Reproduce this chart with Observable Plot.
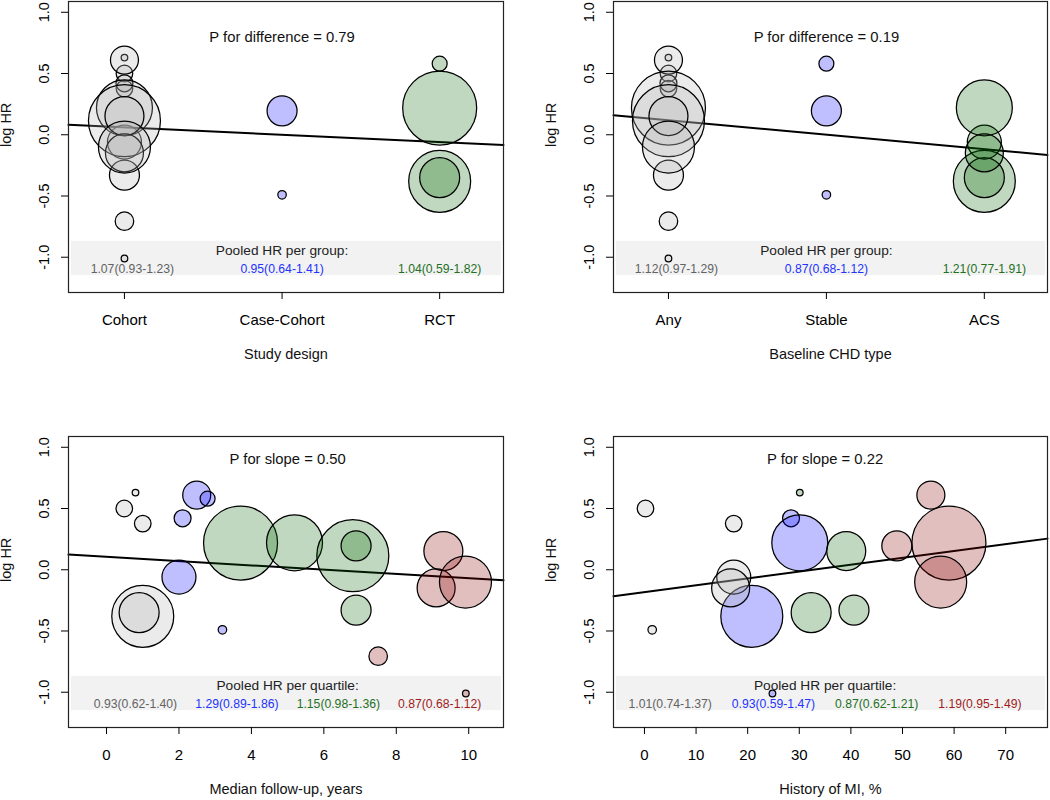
<!DOCTYPE html>
<html>
<head>
<meta charset="utf-8">
<script src="https://cdn.jsdelivr.net/npm/d3@7"></script>
<script src="https://cdn.jsdelivr.net/npm/@observablehq/plot@0.6"></script>
<style>
  body { margin: 0; background: #fff; }
  #wrap { position: relative; width: 1050px; height: 800px; font-family: "Liberation Sans", Arial, sans-serif; }
  .cell { position: absolute; width: 525px; height: 400px; }
</style>
</head>
<body>
<div id="wrap"></div>
<script>
// ---------- data (20 studies) ----------
const studyIds = [1,2,3,4,5,6,7,8,9,10,11,12,13,14,15,16,17,18,19,20];
const logHR = [0.63, 0.50, 0.377, -0.38, -0.35, 0.61, 0.58, 0.42, -0.06, -0.49,
               0.218, 0.22, 0.115, 0.195, -0.33, 0.153, -0.148, -0.10, -0.706, -1.01];
const studyWeight = [1.1, 6.9, 6.9, 96, 40, 19.6, 5.6, 7.2, 28.9, 1.8,
                     136.9, 78.4, 129.6, 22.5, 22.5, 38, 36.1, 67.6, 8.6, 1.1];

const designCategories = ["Cohort", "Case-Cohort", "RCT"];
const studyDesign = [0,0,0,2,2,0,2,0,0,1,2,0,0,1,0,0,0,0,0,0];

const chdCategories = ["Any", "Stable", "ACS"];
const chdType = [0,0,0,2,2,0,1,0,2,1,0,2,0,1,0,0,2,0,0,0];

const followUpYears = [0.80, 0.49, 1.0, 1.0, 0.90, 2.49, 2.79, 2.10, 2.0, 3.2,
                       3.70, 5.19, 6.80, 6.89, 6.89, 9.30, 9.10, 9.91, 7.50, 9.92];
const followUpQuartile = [0,0,0,0,0,1,1,1,1,1,2,2,2,2,2,3,3,3,3,3];

const historyMI = [30.1, 0.2, 17.3, 20.8, 32.3, 55.5, null, 28.4, 17.3, 1.5,
                   59.0, 30.1, null, 48.9, 40.6, 39.1, 16.7, 57.4, null, 24.8];
const historyMIQuartile = [2,0,0,1,2,3,null,1,0,0,3,1,null,3,2,2,0,3,null,1];

const yTicks = [-1, -0.5, 0, 0.5, 1];
const followUpTicks = [0, 2, 4, 6, 8, 10];
const historyTicks = [0, 10, 20, 30, 40, 50, 60, 70];

const pLabels = ["P for difference = 0.79", "P for difference = 0.19", "P for slope = 0.50", "P for slope = 0.22"];
const pooledHeadings = ["Pooled HR per group:", "Pooled HR per group:", "Pooled HR per quartile:", "Pooled HR per quartile:"];
const pooledDesign = ["1.07(0.93-1.23)", "0.95(0.64-1.41)", "1.04(0.59-1.82)"];
const pooledCHD = ["1.12(0.97-1.29)", "0.87(0.68-1.12)", "1.21(0.77-1.91)"];
const pooledFollowUp = ["0.93(0.62-1.40)", "1.29(0.89-1.86)", "1.15(0.98-1.36)", "0.87(0.68-1.12)"];
const pooledHistory = ["1.01(0.74-1.37)", "0.93(0.59-1.47)", "0.87(0.62-1.21)", "1.19(0.95-1.49)"];

// meta-regression fits: [intercept, slope]
const fitDesign = [0.119, -0.0594];
const fitCHD = [0.236, -0.118];
const fitFollowUp = [0.1055, -0.01746];
const fitHistory = [-0.1824, 0.00559];

// ---------- styles ----------
const fillColors = ["#afafaf", "#0000ff", "#006400", "#8b0000"];
const textColors = ["#626262", "#2233ff", "#1f701f", "#9e1c1c"];
const font = "Liberation Sans, Arial, Helvetica, sans-serif";

const panels = [
  { pos: [0, 0], margins: [1, 22, 108, 68], xDomain: [0.645, 3.405], xValues: studyDesign.map(d => d + 1),
    groups: studyDesign, xTicks: [1, 2, 3], tickFormat: d => designCategories[d - 1], xTitle: "Study design",
    fit: fitDesign, pX: 2, pY: 0.795, pText: pLabels[0], heading: pooledHeadings[0], pooled: pooledDesign, pooledX: [1.05, 2, 3] },
  { pos: [525, 0], margins: [1, 3, 108, 88], xDomain: [0.652, 3.40], xValues: chdType.map(d => d + 1),
    groups: chdType, xTicks: [1, 2, 3], tickFormat: d => chdCategories[d - 1], xTitle: "Baseline CHD type",
    fit: fitCHD, pX: 2, pY: 0.795, pText: pLabels[1], heading: pooledHeadings[1], pooled: pooledCHD, pooledX: [1.05, 2, 3] },
  { pos: [0, 400], margins: [36, 22, 73, 68], xDomain: [-1.05, 10.96], xValues: followUpYears,
    groups: followUpQuartile, xTicks: followUpTicks, tickFormat: d => String(d), xTitle: "Median follow-up, years",
    fit: fitFollowUp, pX: 5, pY: 0.90, pText: pLabels[2], heading: pooledHeadings[2], pooled: pooledFollowUp, pooledX: [0.8, 3.6, 6.4, 9.2] },
  { pos: [525, 400], margins: [36, 3, 73, 88], xDomain: [-6.0, 78.1], xValues: historyMI,
    groups: historyMIQuartile, xTicks: historyTicks, tickFormat: d => String(d), xTitle: "History of MI, %",
    fit: fitHistory, pX: 35, pY: 0.90, pText: pLabels[3], heading: pooledHeadings[3], pooled: pooledHistory, pooledX: [5, 25, 45, 65] }
];

const wrap = document.getElementById("wrap");
const maxWeight = d3.max(studyWeight);

for (const cfg of panels) {
  const data = studyIds.map((id, i) => ({ id, x: cfg.xValues[i], y: logHR[i], w: studyWeight[i], g: cfg.groups[i] }))
    .filter(d => d.x != null);
  const [x0, x1] = cfg.xDomain;
  const fitLine = [x0, x1].map(x => ({ x, y: cfg.fit[0] + cfg.fit[1] * x }));
  const [mt, mr, mb, ml] = cfg.margins;

  const marks = [
    Plot.rect([0], { y1: () => -0.87, y2: () => -1.15, fill: "#f2f2f2", insetLeft: 3, insetRight: 2 }),
    Plot.line(fitLine, { x: "x", y: "y", stroke: "black", strokeWidth: 2 }),
    Plot.dot(data, { x: "x", y: "y", r: "w", fill: "g", fillOpacity: 0.25, stroke: "black", strokeWidth: 1.25, sort: null }),
    Plot.frame({ stroke: "#222", strokeWidth: 1.2 }),
    Plot.axisX({ ticks: cfg.xTicks, tickFormat: cfg.tickFormat, tickSize: 7, tickPadding: 15, fontSize: 15, label: null }),
    Plot.axisY({ ticks: yTicks, tickFormat: d => d.toFixed(1), tickSize: 7, tickRotate: -90, tickPadding: 13, fontSize: 14.5, label: null }),
    Plot.text([cfg.xTitle], { frameAnchor: "bottom", dy: 66, fontSize: 14.5, text: d => d, fill: "#111" }),
    Plot.text(["log HR"], { frameAnchor: "left", dx: -62, rotate: -90, fontSize: 14.5, text: d => d, fill: "#111" }),
    Plot.text([cfg.pText], { x: () => cfg.pX, y: () => cfg.pY, fontSize: 14.8, text: d => d, fill: "#111" }),
    Plot.text([cfg.heading], { x: () => cfg.pX, y: () => -0.945, fontSize: 13.7, text: d => d, fill: "#222" }),
    ...cfg.pooled.map((t, i) => Plot.text([t], { x: () => cfg.pooledX[i], y: () => -1.1, fontSize: 12.2, text: d => d, fill: textColors[i] }))
  ];

  const chart = Plot.plot({
    width: 525, height: 400,
    marginTop: mt, marginRight: mr, marginBottom: mb, marginLeft: ml,
    x: { domain: cfg.xDomain },
    y: { domain: [-1.288, 1.088] },
    r: { type: "sqrt", domain: [0, maxWeight], range: [0, 37] },
    color: { type: "ordinal", domain: [0, 1, 2, 3], range: fillColors },
    style: { fontFamily: font, fontSize: "15px", background: "white", color: "black", overflow: "visible" },
    marks
  });
  const cell = document.createElement("div");
  cell.className = "cell";
  cell.style.left = cfg.pos[0] + "px";
  cell.style.top = cfg.pos[1] + "px";
  cell.appendChild(chart);
  wrap.appendChild(cell);
}
</script>
</body>
</html>
